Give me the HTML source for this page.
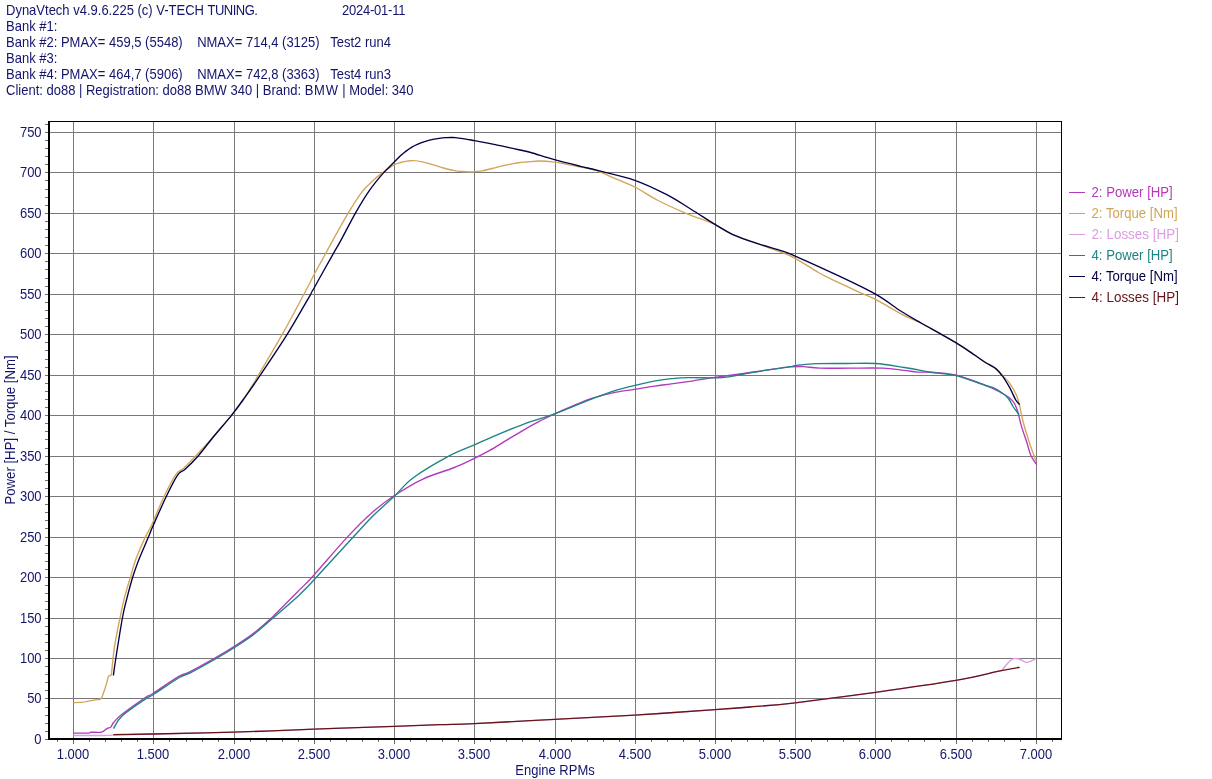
<!DOCTYPE html>
<html><head><meta charset="utf-8"><title>DynaVtech</title>
<style>
html,body{margin:0;padding:0;background:#fff;}
body{width:1212px;height:779px;overflow:hidden;position:relative;font-family:"Liberation Sans",sans-serif;}
#hdr{position:absolute;left:6px;top:2px;font-size:14.5px;line-height:16px;color:#14146c;white-space:pre;transform:scale(0.8966,1);transform-origin:0 0;}
svg{position:absolute;left:0;top:0;}
.t{font-family:"Liberation Sans",sans-serif;font-size:14.5px;fill:#14146c;}
</style></head><body>
<div id="hdr"><div>DynaVtech v4.9.6.225 (c) V-TECH <span style="letter-spacing:-0.59px">TUNING.</span><span style="display:inline-block;width:94.5px"></span><span style="letter-spacing:-0.27px">2024-01-11</span></div><div>Bank #1:</div><div>Bank #2: PMAX= 459,5 (5548)    NMAX= 714,4 (3125)   Test2 run4</div><div>Bank #3:</div><div>Bank #4: PMAX= 464,7 (5906)    NMAX= 742,8 (3363)   Test4 run3</div><div>Client: do88 | Registration: do88 BMW 340 | Brand: <span style="letter-spacing:0.8px">BMW</span> | Model: 340</div></div>
<svg width="1212" height="779" viewBox="0 0 1212 779">
<rect x="73" y="122" width="1" height="617" fill="#787878"/>
<rect x="153" y="122" width="1" height="617" fill="#787878"/>
<rect x="234" y="122" width="1" height="617" fill="#787878"/>
<rect x="314" y="122" width="1" height="617" fill="#787878"/>
<rect x="394" y="122" width="1" height="617" fill="#787878"/>
<rect x="474" y="122" width="1" height="617" fill="#787878"/>
<rect x="555" y="122" width="1" height="617" fill="#787878"/>
<rect x="635" y="122" width="1" height="617" fill="#787878"/>
<rect x="715" y="122" width="1" height="617" fill="#787878"/>
<rect x="795" y="122" width="1" height="617" fill="#787878"/>
<rect x="875" y="122" width="1" height="617" fill="#787878"/>
<rect x="956" y="122" width="1" height="617" fill="#787878"/>
<rect x="1036" y="122" width="1" height="617" fill="#787878"/>
<rect x="50" y="698" width="1011" height="1" fill="#787878"/>
<rect x="50" y="658" width="1011" height="1" fill="#787878"/>
<rect x="50" y="618" width="1011" height="1" fill="#787878"/>
<rect x="50" y="577" width="1011" height="1" fill="#787878"/>
<rect x="50" y="537" width="1011" height="1" fill="#787878"/>
<rect x="50" y="496" width="1011" height="1" fill="#787878"/>
<rect x="50" y="456" width="1011" height="1" fill="#787878"/>
<rect x="50" y="415" width="1011" height="1" fill="#787878"/>
<rect x="50" y="375" width="1011" height="1" fill="#787878"/>
<rect x="50" y="334" width="1011" height="1" fill="#787878"/>
<rect x="50" y="294" width="1011" height="1" fill="#787878"/>
<rect x="50" y="253" width="1011" height="1" fill="#787878"/>
<rect x="50" y="213" width="1011" height="1" fill="#787878"/>
<rect x="50" y="172" width="1011" height="1" fill="#787878"/>
<rect x="50" y="132" width="1011" height="1" fill="#787878"/>
<path d="M73.5 733.5C76.2 733.5 86.6 733.6 89.5 733.5C91.0 733.4 89.5 732.8 91.0 732.6C93.0 732.4 99.1 733.1 101.8 732.5C104.5 731.9 105.6 729.8 107.2 728.9C108.8 728.0 110.1 728.3 111.2 727.3C112.3 726.3 112.1 725.0 113.9 722.9C115.7 720.8 116.8 718.9 122.0 714.8C127.2 710.7 139.8 701.8 145.0 698.3C150.2 694.8 147.6 697.4 153.2 693.8C158.9 690.2 173.0 680.4 179.1 676.8C185.2 673.2 183.8 675.4 190.0 672.3C196.2 669.2 208.8 662.1 216.0 658.0C223.2 653.9 227.4 651.4 233.5 647.5C239.6 643.6 246.3 639.5 252.8 634.5C259.3 629.5 265.0 624.6 272.5 617.6C280.0 610.6 290.8 599.3 297.7 592.3C304.6 585.3 305.5 585.1 313.9 575.8C322.3 566.5 338.6 547.1 348.3 536.7C358.0 526.3 364.3 520.0 371.9 513.3C379.5 506.6 385.4 501.9 394.0 496.3C402.6 490.7 413.2 484.1 423.2 479.4C433.2 474.7 445.5 471.5 454.0 468.1C462.5 464.7 468.2 461.8 474.2 458.9C480.2 456.0 484.6 453.7 490.0 450.7C495.4 447.7 501.0 444.1 506.5 440.8C512.0 437.5 517.5 434.1 523.0 430.9C528.5 427.7 534.2 424.6 539.5 421.8C544.8 419.1 546.2 418.1 554.5 414.4C562.8 410.7 579.1 403.4 589.0 399.8C598.9 396.2 606.2 394.7 613.8 393.0C621.4 391.3 627.9 390.8 634.8 389.7C641.6 388.6 648.9 387.3 655.0 386.4C661.1 385.5 665.7 385.0 671.5 384.2C677.3 383.4 685.5 382.3 690.0 381.7C694.5 381.1 694.4 380.9 698.6 380.3C702.8 379.7 707.8 378.8 715.0 377.8C722.2 376.8 733.3 375.3 741.9 374.1C750.5 372.9 758.4 371.5 766.6 370.4C774.9 369.3 785.2 367.9 791.4 367.3C797.6 366.7 799.0 366.8 803.8 367.0C808.5 367.2 812.2 368.2 819.9 368.5C827.6 368.8 839.5 368.5 850.0 368.5C860.5 368.5 874.0 368.1 883.0 368.5C892.0 368.9 898.5 370.1 904.2 370.7C909.9 371.3 913.3 372.1 917.4 372.4C921.5 372.7 924.6 372.4 929.0 372.6C933.4 372.8 939.1 373.1 943.6 373.5C948.1 373.9 950.5 373.9 955.8 375.3C961.0 376.7 968.9 379.4 975.0 381.6C981.1 383.8 988.0 386.6 992.3 388.5C996.6 390.4 998.1 391.3 1001.0 392.9C1003.9 394.5 1007.4 396.1 1009.7 398.0C1012.0 399.9 1013.5 401.6 1014.9 404.1C1016.3 406.6 1017.1 409.0 1018.3 412.8C1019.4 416.6 1020.3 421.8 1021.8 426.7C1023.2 431.6 1025.4 437.4 1027.0 442.3C1028.6 447.2 1029.6 452.3 1031.3 456.1C1033.0 459.9 1036.0 463.5 1037.0 465.0" fill="none" stroke="#b438bc" stroke-width="1.35" stroke-linejoin="round" stroke-linecap="butt" transform="translate(-0.30,-0.35)"/>
<path d="M73.5 702.6C75.4 702.5 81.4 702.2 85.0 701.8C88.6 701.3 92.4 700.4 95.0 699.9C97.6 699.4 99.4 700.0 100.8 698.9C102.2 697.8 102.3 696.1 103.3 693.5C104.3 690.9 105.7 686.1 106.6 683.2C107.5 680.3 107.8 677.5 108.5 676.2C109.2 674.9 110.5 676.1 111.0 675.4C111.5 674.6 111.4 674.5 111.7 671.7C112.0 668.9 112.4 663.7 113.0 658.5C113.6 653.3 114.3 647.5 115.5 640.7C116.7 634.0 118.6 624.9 120.0 618.0C121.4 611.1 122.4 605.9 124.1 599.1C125.8 592.4 128.3 584.3 130.3 577.5C132.3 570.7 133.8 564.8 136.3 558.1C138.8 551.4 142.7 542.6 145.3 537.1C147.9 531.6 148.5 531.8 151.7 525.0C154.8 518.2 160.2 504.6 164.2 496.2C168.2 487.8 172.7 478.9 175.9 474.3C179.1 469.7 180.1 471.6 183.4 468.5C186.8 465.4 190.7 461.3 196.0 455.7C201.3 450.1 209.1 441.4 215.0 434.7C220.9 428.0 226.8 421.1 231.5 415.3C236.2 409.5 238.5 406.7 243.0 400.0C247.5 393.3 251.9 386.1 258.4 375.2C264.9 364.3 274.5 348.2 282.1 334.7C289.7 321.2 298.5 304.4 303.9 294.3C309.3 284.2 310.9 280.6 314.5 273.8C318.1 267.1 322.5 259.3 325.5 253.8C328.5 248.3 328.8 247.7 332.5 240.9C336.2 234.2 343.0 221.6 348.0 213.3C353.0 205.0 358.1 196.9 362.4 191.3C366.7 185.7 370.6 182.9 373.9 179.8C377.2 176.7 378.9 175.4 382.3 172.9C385.7 170.4 391.4 166.4 394.5 164.7C397.6 163.0 398.6 163.1 400.7 162.5C402.8 161.9 405.0 161.4 407.2 161.1C409.4 160.8 411.1 160.5 413.6 160.6C416.1 160.7 419.0 161.1 422.2 161.8C425.4 162.5 429.3 163.7 432.9 164.7C436.5 165.7 440.0 167.0 443.6 168.0C447.2 169.0 451.2 170.1 454.4 170.7C457.6 171.3 460.4 171.3 462.9 171.5C465.4 171.7 467.4 171.8 469.4 171.8C471.4 171.8 472.6 171.8 474.7 171.6C476.8 171.4 479.3 171.4 482.2 170.9C485.1 170.4 488.5 169.3 491.9 168.5C495.3 167.7 499.0 166.6 502.6 165.8C506.2 165.0 510.5 164.2 513.4 163.6C516.3 163.0 517.7 162.8 520.0 162.5C522.3 162.2 523.8 162.2 527.0 162.0C530.2 161.8 534.4 161.0 539.0 161.0C543.6 161.0 549.0 161.4 554.5 162.1C560.0 162.8 565.2 164.1 572.0 165.4C578.8 166.7 588.1 167.9 595.0 170.0C601.9 172.1 606.7 175.0 613.3 177.8C619.9 180.6 627.3 183.2 634.8 187.0C642.2 190.8 649.5 196.1 658.0 200.5C666.5 204.9 676.5 209.3 686.0 213.3C695.5 217.3 707.3 221.1 715.0 224.6C722.7 228.1 725.3 231.1 732.3 234.3C739.3 237.5 748.8 240.6 757.0 243.6C765.2 246.6 775.4 250.1 781.8 252.5C788.2 254.9 789.1 255.0 795.2 258.3C801.4 261.6 811.8 268.7 818.4 272.5C825.0 276.3 828.1 277.5 835.0 280.9C841.9 284.2 853.2 289.5 860.0 292.6C866.8 295.7 868.5 295.7 875.5 299.3C882.5 302.9 893.9 310.1 901.9 314.3C909.9 318.5 914.6 319.6 923.6 324.3C932.6 329.0 947.2 337.5 955.8 342.7C964.3 347.9 970.1 352.0 975.0 355.3C979.9 358.6 981.9 360.3 985.4 362.5C988.9 364.7 992.9 366.4 995.8 368.6C998.7 370.8 1000.4 373.2 1002.7 375.6C1005.0 378.1 1007.4 380.0 1009.7 383.3C1012.0 386.6 1014.8 391.2 1016.6 395.5C1018.4 399.8 1019.2 404.7 1020.4 409.3C1021.5 413.9 1022.1 418.0 1023.5 423.2C1024.9 428.4 1027.0 435.1 1028.7 440.5C1030.4 445.9 1032.7 451.8 1033.9 455.3C1035.1 458.8 1035.7 460.3 1036.0 461.3" fill="none" stroke="#d2a458" stroke-width="1.35" stroke-linejoin="round" stroke-linecap="butt"/>
<path d="M73.5 735.5C77.9 735.5 93.4 735.5 100.0 735.5C106.6 735.5 104.4 735.5 113.2 735.2C122.0 735.0 132.9 734.5 153.0 734.0C173.1 733.5 206.7 733.0 233.5 732.2C260.3 731.4 287.0 730.1 313.8 729.1C340.5 728.1 373.0 727.1 394.0 726.4C415.0 725.7 426.6 725.2 440.0 724.7C453.4 724.2 455.2 724.5 474.2 723.6C493.3 722.7 527.8 720.8 554.5 719.4C581.2 718.0 608.0 716.7 634.8 715.1C661.5 713.5 695.8 711.0 715.0 709.6C734.2 708.2 736.6 708.1 750.0 707.0C763.4 705.9 774.3 705.2 795.2 702.8C816.2 700.3 848.8 696.0 875.5 692.3C902.2 688.6 935.2 683.9 955.8 680.4C976.3 676.9 991.0 672.9 998.7 671.2C1001.8 669.5 1000.2 671.8 1001.8 670.3C1003.4 668.8 1006.5 664.3 1008.4 662.4C1010.3 660.5 1011.2 659.4 1013.0 658.8C1014.8 658.2 1016.8 658.4 1019.0 659.0C1021.2 659.6 1024.1 662.1 1026.2 662.4C1028.3 662.7 1029.9 661.4 1031.5 660.8C1033.1 660.1 1035.2 658.9 1036.0 658.5" fill="none" stroke="#dc9ce0" stroke-width="1.35" stroke-linejoin="round" stroke-linecap="butt"/>
<path d="M113.2 728.3C114.7 726.2 116.7 720.4 122.0 715.5C127.3 710.6 139.8 702.3 145.0 698.8C150.2 695.2 147.6 697.8 153.2 694.2C158.9 690.6 173.0 680.8 179.1 677.2C185.2 673.6 183.8 675.8 190.0 672.6C196.2 669.4 208.8 662.4 216.0 658.2C223.2 654.1 227.4 651.6 233.5 647.7C239.6 643.8 246.3 639.7 252.8 634.7C259.3 629.8 265.0 624.5 272.5 618.0C280.0 611.5 290.8 602.3 297.7 595.9C304.6 589.5 304.5 589.4 313.8 579.5C323.0 569.6 343.3 547.2 353.0 536.7C362.7 526.2 365.1 523.2 371.9 516.4C378.7 509.6 387.1 502.5 394.0 496.0C400.9 489.5 403.9 484.1 413.0 477.4C422.1 470.7 438.3 461.3 448.5 455.8C458.7 450.3 467.3 447.6 474.2 444.5C481.2 441.4 481.9 440.9 490.0 437.5C498.1 434.1 512.2 428.0 523.0 424.0C533.8 420.0 543.5 417.7 554.5 413.6C565.5 409.5 579.1 403.5 589.0 399.6C598.9 395.8 606.2 392.9 613.8 390.5C621.4 388.1 627.9 386.6 634.8 385.0C641.6 383.4 648.9 381.7 655.0 380.6C661.1 379.5 665.9 378.9 671.5 378.4C677.1 377.9 680.3 377.6 688.7 377.4C697.1 377.2 713.1 377.9 722.0 377.4C730.9 376.8 734.5 375.4 741.9 374.1C749.3 372.8 758.4 371.1 766.6 369.8C774.9 368.5 786.6 366.9 791.4 366.1C795.2 365.3 791.4 365.6 795.2 365.1C799.4 364.7 807.7 363.7 816.0 363.4C824.3 363.1 835.1 363.2 845.0 363.2C854.9 363.2 865.6 362.5 875.5 363.2C885.4 363.9 895.0 365.8 904.2 367.2C913.4 368.6 922.0 370.4 930.6 371.8C939.2 373.2 948.4 373.7 955.8 375.3C963.1 376.9 970.1 380.0 975.0 381.6C979.9 383.2 982.1 384.1 985.0 385.0C987.9 385.9 989.6 385.9 992.3 387.1C995.0 388.3 998.4 390.2 1001.0 392.0C1003.6 393.8 1005.9 395.6 1007.9 398.0C1009.9 400.4 1011.3 404.0 1013.1 406.7C1014.9 409.4 1017.8 412.9 1018.8 414.2" fill="none" stroke="#1c8484" stroke-width="1.35" stroke-linejoin="round" stroke-linecap="butt" transform="translate(0.25,0.30)"/>
<path d="M113.4 675.5C113.8 672.7 114.3 668.1 115.8 658.5C117.3 648.9 120.6 627.9 122.4 618.0C124.2 608.1 125.0 605.9 126.7 599.1C128.4 592.4 130.5 584.3 132.6 577.5C134.7 570.7 136.9 564.8 139.5 558.1C142.1 551.4 146.1 542.6 148.4 537.1C150.7 531.6 150.4 531.8 153.4 525.0C156.4 518.2 162.4 504.5 166.4 496.2C170.4 487.9 174.5 479.6 177.6 475.1C180.7 470.6 181.6 472.5 185.1 469.3C188.6 466.1 193.7 461.1 198.4 455.7C203.1 450.3 208.0 443.4 213.5 436.7C219.0 430.0 226.6 421.4 231.5 415.3C236.4 409.2 238.2 406.7 243.0 400.0C247.8 393.3 253.0 386.1 260.3 375.2C267.6 364.3 278.6 348.2 287.0 334.7C295.4 321.2 306.1 302.2 310.7 294.3C314.5 286.4 310.8 294.1 314.5 287.3C318.2 280.6 328.8 261.5 333.2 253.8C337.6 246.1 336.9 247.7 340.6 240.9C344.3 234.2 350.6 221.6 355.3 213.3C360.0 205.0 364.1 198.0 368.8 191.3C373.5 184.6 379.2 177.8 383.5 172.9C387.8 168.0 391.6 164.6 394.5 161.7C397.4 158.8 398.8 157.3 400.7 155.5C402.6 153.7 404.3 152.5 406.1 151.1C407.9 149.7 409.5 148.5 411.5 147.3C413.5 146.1 415.6 145.1 417.9 144.1C420.2 143.1 422.9 142.1 425.4 141.3C427.9 140.5 430.6 139.9 432.9 139.4C435.2 138.9 437.1 138.6 439.3 138.3C441.5 138.0 443.9 137.8 445.8 137.7C447.8 137.6 449.4 137.5 451.0 137.5C452.6 137.5 453.4 137.4 455.4 137.6C457.4 137.8 459.7 138.1 462.9 138.6C466.1 139.1 470.8 140.0 474.7 140.7C478.6 141.4 482.7 142.2 486.5 142.9C490.3 143.6 493.7 144.4 497.3 145.1C500.9 145.8 504.2 146.5 508.0 147.3C511.8 148.1 516.2 149.1 520.0 150.0C523.8 150.9 525.0 150.9 530.8 152.5C536.5 154.1 546.2 157.4 554.5 159.7C562.8 162.0 573.0 164.5 580.3 166.3C587.6 168.1 589.3 168.4 598.4 170.7C607.5 173.0 623.4 176.4 634.8 180.3C646.1 184.2 656.9 189.6 666.3 194.4C675.7 199.2 682.9 204.2 691.0 209.2C699.1 214.2 708.1 220.2 715.0 224.4C721.9 228.6 725.3 231.1 732.3 234.3C739.3 237.5 748.8 240.7 757.0 243.4C765.2 246.2 775.4 248.7 781.8 250.8C788.2 252.9 786.4 252.2 795.2 256.1C804.1 260.0 821.6 267.9 835.0 274.2C848.4 280.5 864.4 287.9 875.5 294.2C886.6 300.5 894.2 306.9 901.9 311.8C909.6 316.7 912.9 318.4 921.9 323.5C930.9 328.6 946.9 337.4 955.8 342.7C964.6 348.0 970.1 352.0 975.0 355.3C979.9 358.6 981.9 360.3 985.4 362.5C988.9 364.7 992.9 366.3 995.8 368.6C998.7 370.9 1000.4 373.2 1002.7 376.4C1005.0 379.6 1007.5 383.8 1009.7 387.7C1011.9 391.6 1014.0 397.0 1015.7 399.8C1017.4 402.6 1019.1 403.8 1019.8 404.6" fill="none" stroke="#000046" stroke-width="1.35" stroke-linejoin="round" stroke-linecap="butt"/>
<path d="M113.4 734.6C120.0 734.5 133.0 734.4 153.0 734.0C173.0 733.6 206.7 733.0 233.5 732.2C260.3 731.4 287.0 730.1 313.8 729.1C340.5 728.1 373.0 727.1 394.0 726.4C415.0 725.7 426.6 725.2 440.0 724.7C453.4 724.2 455.2 724.5 474.2 723.6C493.3 722.7 527.8 720.8 554.5 719.4C581.2 718.0 608.0 716.7 634.8 715.1C661.5 713.5 695.8 711.0 715.0 709.6C734.2 708.2 736.6 708.1 750.0 707.0C763.4 705.9 774.3 705.2 795.2 702.8C816.2 700.3 848.8 696.0 875.5 692.3C902.2 688.6 935.2 683.9 955.8 680.4C976.3 676.9 988.0 673.4 998.7 671.2C1009.4 669.0 1016.2 667.9 1019.7 667.3" fill="none" stroke="#661418" stroke-width="1.35" stroke-linejoin="round" stroke-linecap="butt"/>
<rect x="48" y="121" width="1014" height="1" fill="#000"/>
<rect x="1061" y="121" width="1" height="619" fill="#000"/>
<rect x="48" y="121" width="2" height="619" fill="#000"/>
<rect x="48" y="738" width="1014" height="2" fill="#000"/>
<rect x="45" y="739" width="3" height="1" fill="#6e6e6e"/>
<rect x="45" y="731" width="3" height="1" fill="#6e6e6e"/>
<rect x="45" y="723" width="3" height="1" fill="#6e6e6e"/>
<rect x="45" y="715" width="3" height="1" fill="#6e6e6e"/>
<rect x="45" y="707" width="3" height="1" fill="#6e6e6e"/>
<rect x="45" y="698" width="3" height="1" fill="#6e6e6e"/>
<rect x="45" y="690" width="3" height="1" fill="#6e6e6e"/>
<rect x="45" y="682" width="3" height="1" fill="#6e6e6e"/>
<rect x="45" y="674" width="3" height="1" fill="#6e6e6e"/>
<rect x="45" y="666" width="3" height="1" fill="#6e6e6e"/>
<rect x="45" y="658" width="3" height="1" fill="#6e6e6e"/>
<rect x="45" y="650" width="3" height="1" fill="#6e6e6e"/>
<rect x="45" y="642" width="3" height="1" fill="#6e6e6e"/>
<rect x="45" y="634" width="3" height="1" fill="#6e6e6e"/>
<rect x="45" y="626" width="3" height="1" fill="#6e6e6e"/>
<rect x="45" y="618" width="3" height="1" fill="#6e6e6e"/>
<rect x="45" y="609" width="3" height="1" fill="#6e6e6e"/>
<rect x="45" y="601" width="3" height="1" fill="#6e6e6e"/>
<rect x="45" y="593" width="3" height="1" fill="#6e6e6e"/>
<rect x="45" y="585" width="3" height="1" fill="#6e6e6e"/>
<rect x="45" y="577" width="3" height="1" fill="#6e6e6e"/>
<rect x="45" y="569" width="3" height="1" fill="#6e6e6e"/>
<rect x="45" y="561" width="3" height="1" fill="#6e6e6e"/>
<rect x="45" y="553" width="3" height="1" fill="#6e6e6e"/>
<rect x="45" y="545" width="3" height="1" fill="#6e6e6e"/>
<rect x="45" y="537" width="3" height="1" fill="#6e6e6e"/>
<rect x="45" y="528" width="3" height="1" fill="#6e6e6e"/>
<rect x="45" y="520" width="3" height="1" fill="#6e6e6e"/>
<rect x="45" y="512" width="3" height="1" fill="#6e6e6e"/>
<rect x="45" y="504" width="3" height="1" fill="#6e6e6e"/>
<rect x="45" y="496" width="3" height="1" fill="#6e6e6e"/>
<rect x="45" y="488" width="3" height="1" fill="#6e6e6e"/>
<rect x="45" y="480" width="3" height="1" fill="#6e6e6e"/>
<rect x="45" y="472" width="3" height="1" fill="#6e6e6e"/>
<rect x="45" y="464" width="3" height="1" fill="#6e6e6e"/>
<rect x="45" y="456" width="3" height="1" fill="#6e6e6e"/>
<rect x="45" y="448" width="3" height="1" fill="#6e6e6e"/>
<rect x="45" y="439" width="3" height="1" fill="#6e6e6e"/>
<rect x="45" y="431" width="3" height="1" fill="#6e6e6e"/>
<rect x="45" y="423" width="3" height="1" fill="#6e6e6e"/>
<rect x="45" y="415" width="3" height="1" fill="#6e6e6e"/>
<rect x="45" y="407" width="3" height="1" fill="#6e6e6e"/>
<rect x="45" y="399" width="3" height="1" fill="#6e6e6e"/>
<rect x="45" y="391" width="3" height="1" fill="#6e6e6e"/>
<rect x="45" y="383" width="3" height="1" fill="#6e6e6e"/>
<rect x="45" y="375" width="3" height="1" fill="#6e6e6e"/>
<rect x="45" y="367" width="3" height="1" fill="#6e6e6e"/>
<rect x="45" y="359" width="3" height="1" fill="#6e6e6e"/>
<rect x="45" y="350" width="3" height="1" fill="#6e6e6e"/>
<rect x="45" y="342" width="3" height="1" fill="#6e6e6e"/>
<rect x="45" y="334" width="3" height="1" fill="#6e6e6e"/>
<rect x="45" y="326" width="3" height="1" fill="#6e6e6e"/>
<rect x="45" y="318" width="3" height="1" fill="#6e6e6e"/>
<rect x="45" y="310" width="3" height="1" fill="#6e6e6e"/>
<rect x="45" y="302" width="3" height="1" fill="#6e6e6e"/>
<rect x="45" y="294" width="3" height="1" fill="#6e6e6e"/>
<rect x="45" y="286" width="3" height="1" fill="#6e6e6e"/>
<rect x="45" y="278" width="3" height="1" fill="#6e6e6e"/>
<rect x="45" y="269" width="3" height="1" fill="#6e6e6e"/>
<rect x="45" y="261" width="3" height="1" fill="#6e6e6e"/>
<rect x="45" y="253" width="3" height="1" fill="#6e6e6e"/>
<rect x="45" y="245" width="3" height="1" fill="#6e6e6e"/>
<rect x="45" y="237" width="3" height="1" fill="#6e6e6e"/>
<rect x="45" y="229" width="3" height="1" fill="#6e6e6e"/>
<rect x="45" y="221" width="3" height="1" fill="#6e6e6e"/>
<rect x="45" y="213" width="3" height="1" fill="#6e6e6e"/>
<rect x="45" y="205" width="3" height="1" fill="#6e6e6e"/>
<rect x="45" y="197" width="3" height="1" fill="#6e6e6e"/>
<rect x="45" y="189" width="3" height="1" fill="#6e6e6e"/>
<rect x="45" y="180" width="3" height="1" fill="#6e6e6e"/>
<rect x="45" y="172" width="3" height="1" fill="#6e6e6e"/>
<rect x="45" y="164" width="3" height="1" fill="#6e6e6e"/>
<rect x="45" y="156" width="3" height="1" fill="#6e6e6e"/>
<rect x="45" y="148" width="3" height="1" fill="#6e6e6e"/>
<rect x="45" y="140" width="3" height="1" fill="#6e6e6e"/>
<rect x="45" y="132" width="3" height="1" fill="#6e6e6e"/>
<rect x="45" y="124" width="3" height="1" fill="#6e6e6e"/>
<rect x="57" y="740" width="1" height="2" fill="#6e6e6e"/>
<rect x="73" y="740" width="1" height="4" fill="#6e6e6e"/>
<rect x="89" y="740" width="1" height="2" fill="#6e6e6e"/>
<rect x="105" y="740" width="1" height="2" fill="#6e6e6e"/>
<rect x="121" y="740" width="1" height="2" fill="#6e6e6e"/>
<rect x="137" y="740" width="1" height="2" fill="#6e6e6e"/>
<rect x="153" y="740" width="1" height="4" fill="#6e6e6e"/>
<rect x="169" y="740" width="1" height="2" fill="#6e6e6e"/>
<rect x="186" y="740" width="1" height="2" fill="#6e6e6e"/>
<rect x="202" y="740" width="1" height="2" fill="#6e6e6e"/>
<rect x="218" y="740" width="1" height="2" fill="#6e6e6e"/>
<rect x="234" y="740" width="1" height="4" fill="#6e6e6e"/>
<rect x="250" y="740" width="1" height="2" fill="#6e6e6e"/>
<rect x="266" y="740" width="1" height="2" fill="#6e6e6e"/>
<rect x="282" y="740" width="1" height="2" fill="#6e6e6e"/>
<rect x="298" y="740" width="1" height="2" fill="#6e6e6e"/>
<rect x="314" y="740" width="1" height="4" fill="#6e6e6e"/>
<rect x="330" y="740" width="1" height="2" fill="#6e6e6e"/>
<rect x="346" y="740" width="1" height="2" fill="#6e6e6e"/>
<rect x="362" y="740" width="1" height="2" fill="#6e6e6e"/>
<rect x="378" y="740" width="1" height="2" fill="#6e6e6e"/>
<rect x="394" y="740" width="1" height="4" fill="#6e6e6e"/>
<rect x="410" y="740" width="1" height="2" fill="#6e6e6e"/>
<rect x="426" y="740" width="1" height="2" fill="#6e6e6e"/>
<rect x="442" y="740" width="1" height="2" fill="#6e6e6e"/>
<rect x="458" y="740" width="1" height="2" fill="#6e6e6e"/>
<rect x="474" y="740" width="1" height="4" fill="#6e6e6e"/>
<rect x="490" y="740" width="1" height="2" fill="#6e6e6e"/>
<rect x="506" y="740" width="1" height="2" fill="#6e6e6e"/>
<rect x="522" y="740" width="1" height="2" fill="#6e6e6e"/>
<rect x="539" y="740" width="1" height="2" fill="#6e6e6e"/>
<rect x="555" y="740" width="1" height="4" fill="#6e6e6e"/>
<rect x="571" y="740" width="1" height="2" fill="#6e6e6e"/>
<rect x="587" y="740" width="1" height="2" fill="#6e6e6e"/>
<rect x="603" y="740" width="1" height="2" fill="#6e6e6e"/>
<rect x="619" y="740" width="1" height="2" fill="#6e6e6e"/>
<rect x="635" y="740" width="1" height="4" fill="#6e6e6e"/>
<rect x="651" y="740" width="1" height="2" fill="#6e6e6e"/>
<rect x="667" y="740" width="1" height="2" fill="#6e6e6e"/>
<rect x="683" y="740" width="1" height="2" fill="#6e6e6e"/>
<rect x="699" y="740" width="1" height="2" fill="#6e6e6e"/>
<rect x="715" y="740" width="1" height="4" fill="#6e6e6e"/>
<rect x="731" y="740" width="1" height="2" fill="#6e6e6e"/>
<rect x="747" y="740" width="1" height="2" fill="#6e6e6e"/>
<rect x="763" y="740" width="1" height="2" fill="#6e6e6e"/>
<rect x="779" y="740" width="1" height="2" fill="#6e6e6e"/>
<rect x="795" y="740" width="1" height="4" fill="#6e6e6e"/>
<rect x="811" y="740" width="1" height="2" fill="#6e6e6e"/>
<rect x="827" y="740" width="1" height="2" fill="#6e6e6e"/>
<rect x="843" y="740" width="1" height="2" fill="#6e6e6e"/>
<rect x="859" y="740" width="1" height="2" fill="#6e6e6e"/>
<rect x="875" y="740" width="1" height="4" fill="#6e6e6e"/>
<rect x="891" y="740" width="1" height="2" fill="#6e6e6e"/>
<rect x="908" y="740" width="1" height="2" fill="#6e6e6e"/>
<rect x="924" y="740" width="1" height="2" fill="#6e6e6e"/>
<rect x="940" y="740" width="1" height="2" fill="#6e6e6e"/>
<rect x="956" y="740" width="1" height="4" fill="#6e6e6e"/>
<rect x="972" y="740" width="1" height="2" fill="#6e6e6e"/>
<rect x="988" y="740" width="1" height="2" fill="#6e6e6e"/>
<rect x="1004" y="740" width="1" height="2" fill="#6e6e6e"/>
<rect x="1020" y="740" width="1" height="2" fill="#6e6e6e"/>
<rect x="1036" y="740" width="1" height="4" fill="#6e6e6e"/>
<rect x="1052" y="740" width="1" height="2" fill="#6e6e6e"/>
<text transform="translate(41.60,744.00) scale(0.8966,1)" text-anchor="end" class="t">0</text>
<text transform="translate(41.60,703.00) scale(0.8966,1)" text-anchor="end" class="t">50</text>
<text transform="translate(41.60,663.00) scale(0.8966,1)" text-anchor="end" class="t">100</text>
<text transform="translate(41.60,623.00) scale(0.8966,1)" text-anchor="end" class="t">150</text>
<text transform="translate(41.60,582.00) scale(0.8966,1)" text-anchor="end" class="t">200</text>
<text transform="translate(41.60,542.00) scale(0.8966,1)" text-anchor="end" class="t">250</text>
<text transform="translate(41.60,501.00) scale(0.8966,1)" text-anchor="end" class="t">300</text>
<text transform="translate(41.60,461.00) scale(0.8966,1)" text-anchor="end" class="t">350</text>
<text transform="translate(41.60,420.00) scale(0.8966,1)" text-anchor="end" class="t">400</text>
<text transform="translate(41.60,380.00) scale(0.8966,1)" text-anchor="end" class="t">450</text>
<text transform="translate(41.60,339.00) scale(0.8966,1)" text-anchor="end" class="t">500</text>
<text transform="translate(41.60,299.00) scale(0.8966,1)" text-anchor="end" class="t">550</text>
<text transform="translate(41.60,258.00) scale(0.8966,1)" text-anchor="end" class="t">600</text>
<text transform="translate(41.60,218.00) scale(0.8966,1)" text-anchor="end" class="t">650</text>
<text transform="translate(41.60,177.00) scale(0.8966,1)" text-anchor="end" class="t">700</text>
<text transform="translate(41.60,137.00) scale(0.8966,1)" text-anchor="end" class="t">750</text>
<text transform="translate(73.00,759.00) scale(0.8966,1)" text-anchor="middle" class="t">1.000</text>
<text transform="translate(153.00,759.00) scale(0.8966,1)" text-anchor="middle" class="t">1.500</text>
<text transform="translate(234.00,759.00) scale(0.8966,1)" text-anchor="middle" class="t">2.000</text>
<text transform="translate(314.00,759.00) scale(0.8966,1)" text-anchor="middle" class="t">2.500</text>
<text transform="translate(394.00,759.00) scale(0.8966,1)" text-anchor="middle" class="t">3.000</text>
<text transform="translate(474.00,759.00) scale(0.8966,1)" text-anchor="middle" class="t">3.500</text>
<text transform="translate(555.00,759.00) scale(0.8966,1)" text-anchor="middle" class="t">4.000</text>
<text transform="translate(635.00,759.00) scale(0.8966,1)" text-anchor="middle" class="t">4.500</text>
<text transform="translate(715.00,759.00) scale(0.8966,1)" text-anchor="middle" class="t">5.000</text>
<text transform="translate(795.00,759.00) scale(0.8966,1)" text-anchor="middle" class="t">5.500</text>
<text transform="translate(875.00,759.00) scale(0.8966,1)" text-anchor="middle" class="t">6.000</text>
<text transform="translate(956.00,759.00) scale(0.8966,1)" text-anchor="middle" class="t">6.500</text>
<text transform="translate(1036.00,759.00) scale(0.8966,1)" text-anchor="middle" class="t">7.000</text>
<text transform="translate(555.00,775.00) scale(0.8966,1)" text-anchor="middle" class="t">Engine RPMs</text>
<text transform="translate(14.50,430.00) rotate(-90) scale(0.9091,1)" text-anchor="middle" class="t">Power [HP] / Torque [Nm]</text>
<rect x="1069" y="192" width="16" height="1" fill="#b438bc"/>
<text transform="translate(1091.50,197.00) scale(0.9091,1)" text-anchor="start" class="t" style="fill:#b438bc">2: Power [HP]</text>
<rect x="1069" y="213" width="16" height="1" fill="#d2a458"/>
<text transform="translate(1091.50,218.00) scale(0.9091,1)" text-anchor="start" class="t" style="fill:#d2a458">2: Torque [Nm]</text>
<rect x="1069" y="234" width="16" height="1" fill="#dc9ce0"/>
<text transform="translate(1091.50,239.00) scale(0.9279,1)" text-anchor="start" class="t" style="fill:#dc9ce0">2: Losses [HP]</text>
<rect x="1069" y="255" width="16" height="1" fill="#1c8484"/>
<text transform="translate(1091.50,260.00) scale(0.9091,1)" text-anchor="start" class="t" style="fill:#1c8484">4: Power [HP]</text>
<rect x="1069" y="276" width="16" height="1" fill="#000046"/>
<text transform="translate(1091.50,281.00) scale(0.9091,1)" text-anchor="start" class="t" style="fill:#000046">4: Torque [Nm]</text>
<rect x="1069" y="297" width="16" height="1" fill="#661418"/>
<text transform="translate(1091.50,302.00) scale(0.9279,1)" text-anchor="start" class="t" style="fill:#661418">4: Losses [HP]</text>
</svg>
</body></html>
